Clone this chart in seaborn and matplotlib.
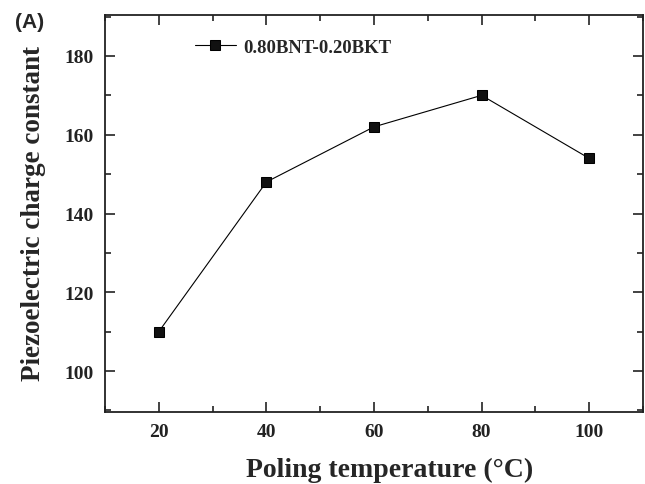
import matplotlib
matplotlib.use("Agg")
import matplotlib.pyplot as plt
from matplotlib.ticker import MultipleLocator
import seaborn as sns
import pandas as pd

temperature = [20, 40, 60, 80, 100]
d33 = [110, 148, 162, 170, 154]
series_name = "0.80BNT-0.20BKT"

df = pd.DataFrame({"T": temperature, "d33": d33})

sns.set_style("ticks")
plt.rcParams["font.family"] = ["Liberation Serif", "DejaVu Serif"]
plt.rcParams["font.weight"] = "bold"

W, H = 645, 485
fig = plt.figure(figsize=(W / 100, H / 100), dpi=100)
ax = fig.add_axes([105 / W, 1 - 413 / H, (643 - 105) / W, (413 - 16) / H])

sns.lineplot(data=df, x="T", y="d33", ax=ax, color="black", linewidth=0.8,
             marker="s", markersize=7, markeredgecolor="black",
             markerfacecolor="#111111", label=series_name)

ax.set_xlim(10, 110)
ax.set_ylim(89.6, 190.4)
ax.xaxis.set_major_locator(MultipleLocator(20))
ax.xaxis.set_minor_locator(MultipleLocator(10))
ax.yaxis.set_major_locator(MultipleLocator(20))
ax.yaxis.set_minor_locator(MultipleLocator(10))
ax.tick_params(which="both", direction="in", top=True, right=True,
               labeltop=False, labelright=False, width=1.2, colors="#222222")
ax.tick_params(which="major", length=7, labelsize=14, pad=8)
ax.tick_params(which="minor", length=4)
for lab in ax.get_xticklabels() + ax.get_yticklabels():
    lab.set_fontweight("bold")
for s in ax.spines.values():
    s.set_linewidth(1.3)
    s.set_color("#222222")

ax.set_xlabel("Poling temperature (°C)", fontsize=20, fontweight="bold")
ax.set_ylabel("Piezoelectric charge constant", fontsize=19.5, fontweight="bold")
ax.xaxis.set_label_coords((390 - 105) / (643 - 105), -(470 - 413) / (413 - 16))
ax.yaxis.set_label_coords(-(105 - 33) / (643 - 105), (413 - 214) / (413 - 16))
ax.xaxis.label.set_va("center")
ax.yaxis.label.set_va("center")

leg = ax.legend(loc="upper left", bbox_to_anchor=(0.135, 0.983), frameon=False,
                prop={"family": "Liberation Serif", "weight": "bold", "size": 13.5},
                handlelength=2.2, handletextpad=0.4)

fig.text(15 / W, 1 - 22 / H, "(A)", fontsize=15, fontweight="bold",
         family="Liberation Sans", va="center", ha="left")

fig.savefig("out.png", dpi=100)
